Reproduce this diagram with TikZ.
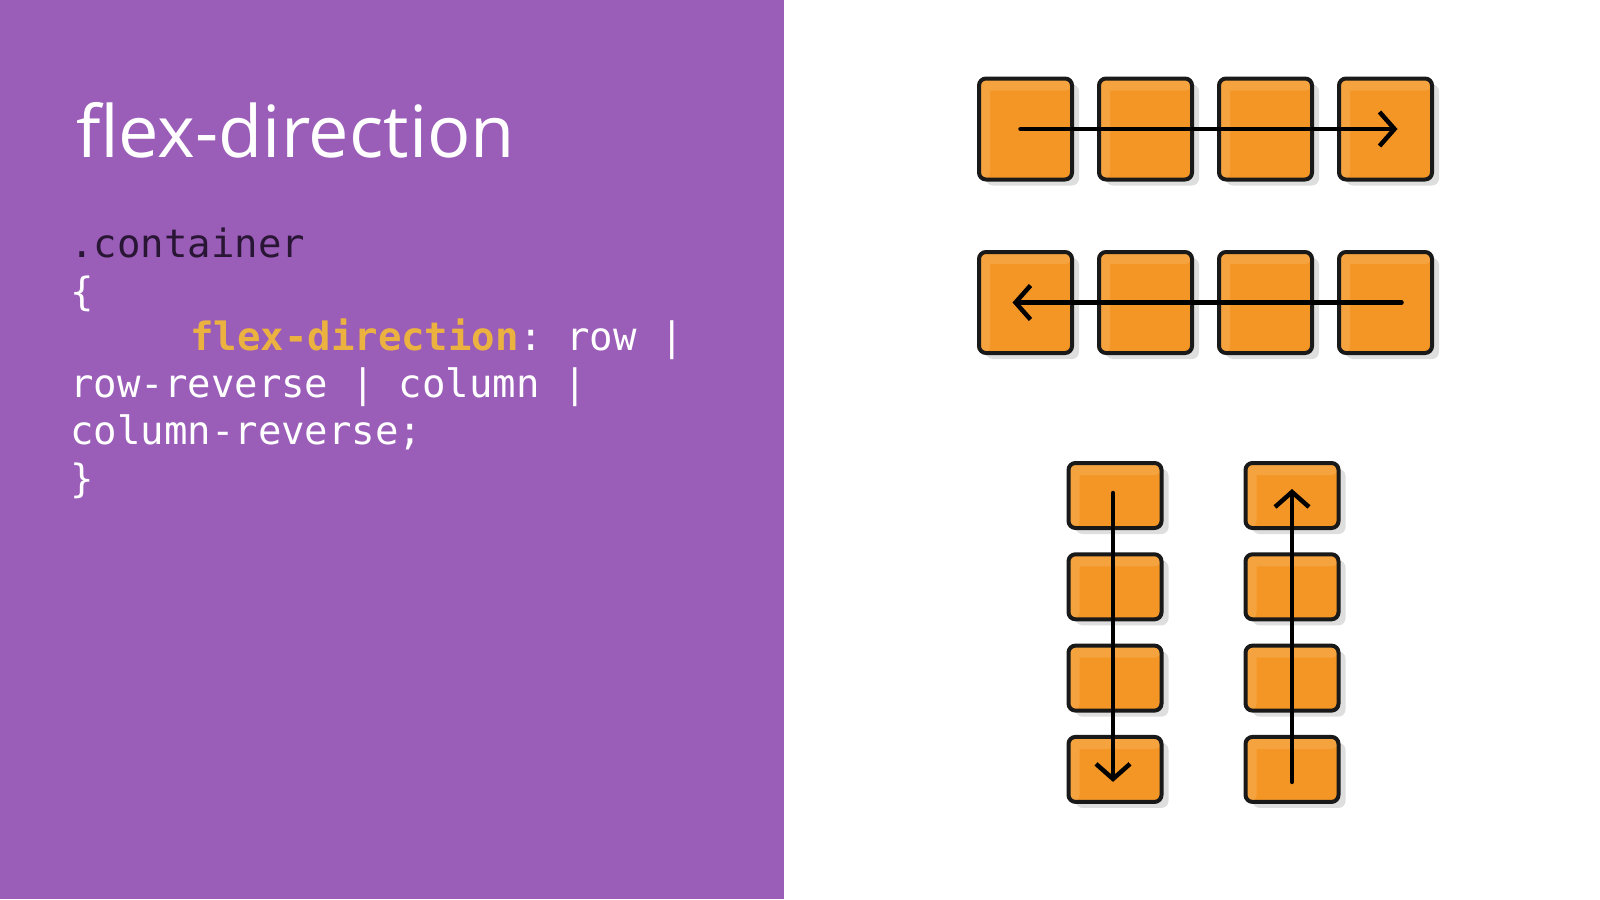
\documentclass[tikz,border=0pt]{standalone}
\usepackage{fontspec}
\setmainfont{Open Sans}
\setmonofont{DejaVu Sans Mono}
\usetikzlibrary{arrows.meta, positioning, shadows}
\definecolor{panel}{RGB}{154,93,184}
\definecolor{boxfill}{RGB}{243,150,38}
\definecolor{boxlight}{RGB}{245,163,62}
\definecolor{keyword}{RGB}{236,178,64}
\definecolor{selector}{RGB}{40,22,52}

\tikzset{
  item/.style={draw=black!90, fill=boxfill, line width=4pt, rounded corners=7pt,
    minimum width=93pt, inner sep=0pt, outer sep=0pt,
    path picture={
      \fill[boxlight] (path picture bounding box.north west) rectangle ([yshift=-12pt]path picture bounding box.north east);
      \fill[boxlight] (path picture bounding box.north west) rectangle ([xshift=11pt]path picture bounding box.south west);
    },
    drop shadow={shadow xshift=7pt, shadow yshift=-6pt, opacity=0.13, fill=black}},
  rowitem/.style={item, minimum height=101pt},
  colitem/.style={item, minimum height=65pt},
  flow/.style={line width=4.5pt, line cap=round, -{Straight Barb[length=15pt, width=34pt]}},
  code/.style={anchor=base west, inner sep=0pt, text=white, font=\ttfamily\fontsize{39}{47}\selectfont}
}

\begin{document}
\begin{tikzpicture}[x=1pt, y=-1pt]
        \useasboundingbox (0,0) rectangle (1600,899);
        \fill[white] (0,0) rectangle (1600,899);
        \fill[panel] (0,0) rectangle (784,899);

        % title and code
        \node[anchor=base west, inner sep=0pt, text=white, font=\fontsize{72}{86}\selectfont] (title) at (76,157) {flex-direction};
        \node[code, text=selector] (sel) at (70,257) {.container};
        \node[code] (open) at (70,305) {\{};
        \node[code, text=keyword, font=\ttfamily\bfseries\fontsize{39}{47}\selectfont] (prop) at (190,350) {flex-direction};
        \node[code] (val) at (prop.base east) {: row |};
        \node[code] (line4) at (70,397) {row-reverse | column |};
        \node[code] (line5) at (70,444) {column-reverse;};
        \node[code] (close) at (70,492) {\}};

        % row
        \node[rowitem] (r1) at (1025.5,129) {};
        \node[rowitem, right=27pt of r1] (r2) {};
        \node[rowitem, right=27pt of r2] (r3) {};
        \node[rowitem, right=27pt of r3] (r4) {};
        \draw[flow] ([xshift=-5pt]r1.center) -- ([xshift=12pt]r4.center);

        % row-reverse
        \node[rowitem] (rr1) at (1025.5,302.5) {};
        \node[rowitem, right=27pt of rr1] (rr2) {};
        \node[rowitem, right=27pt of rr2] (rr3) {};
        \node[rowitem, right=27pt of rr3] (rr4) {};
        \draw[flow] ([xshift=16pt]rr4.center) -- ([xshift=-13pt]rr1.center);

        % column
        \node[colitem] (c1) at (1115,495.5) {};
        \node[colitem, below=26.3pt of c1] (c2) {};
        \node[colitem, below=26.3pt of c2] (c3) {};
        \node[colitem, below=26.3pt of c3] (c4) {};
        \draw[flow] ([xshift=-2pt, yshift=2.5pt]c1.center) -- ([xshift=-2pt, yshift=-12.5pt]c4.center);

        % column-reverse
        \node[colitem] (cr1) at (1292,495.5) {};
        \node[colitem, below=26.3pt of cr1] (cr2) {};
        \node[colitem, below=26.3pt of cr2] (cr3) {};
        \node[colitem, below=26.3pt of cr3] (cr4) {};
        \draw[flow] ([yshift=-12.5pt]cr4.center) -- ([yshift=6.5pt]cr1.center);
\end{tikzpicture}
\end{document}
